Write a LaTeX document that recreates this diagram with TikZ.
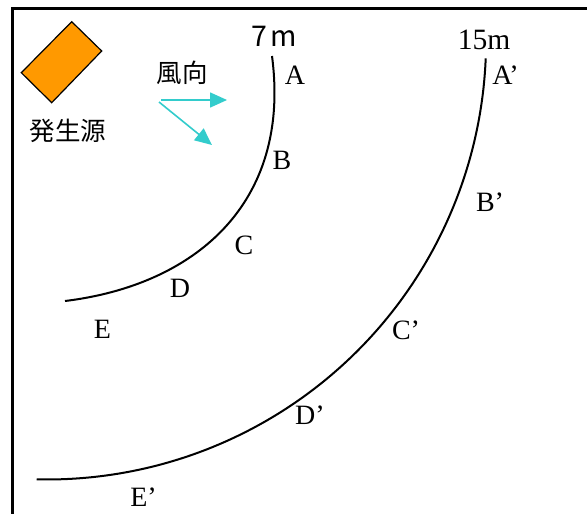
\documentclass[tikz,border=0pt]{standalone}
\usepackage{fontspec}
\setmainfont{Liberation Serif}
\newfontfamily\jp{Noto Sans CJK JP}
\usetikzlibrary{arrows.meta}
\definecolor{srcorange}{HTML}{FF9900}
\definecolor{windc}{HTML}{33CCCC}
\begin{document}
\begin{tikzpicture}[x=1pt,y=-1pt,
  lbl/.style={font=\fontsize{28}{28}\selectfont, inner sep=0pt},
  jlbl/.style={font=\jp\fontsize{25.5}{25.5}\selectfont, inner sep=0pt},
  dist/.style={inner sep=0pt},
  wind/.style={draw=windc, line width=1.6pt, -{Triangle[length=17pt,width=15pt]}},
  ring/.style={line width=2pt}]
\useasboundingbox (0,0) rectangle (587,514);
\fill[white] (0,0) rectangle (587,514);
% frame
\draw[line width=3pt] (12,520) -- (12,8) -- (595,8);
% source
\draw[fill=srcorange, line width=1.2pt] (21.3,72.7) -- (71.7,21.7) -- (101.7,51) -- (51.7,102.7) -- cycle;
\node[jlbl] (src) at (68,130.5) {発生源};
% wind
\node[jlbl] (windlbl) at (182,72.5) {風向};
\coordinate (w0) at (161,100);
\coordinate (w1) at (227,100);
\coordinate (w2) at (159,102);
\coordinate (w3) at (212,145);
\draw[wind] (w0) -- (w1);
\draw[wind] (w2) -- (w3);
% 7 m arc
\coordinate (a0) at (272,56);
\coordinate (a1) at (65,301);
\draw[ring] (a0) .. controls (291.5,204.5) and (193.7,285.4) .. (a1);
% 15 m arc
\draw[ring] plot[domain=2.34:91.34, samples=90, smooth] ({47+439.1*cos(\x)},{40.4+439.1*sin(\x)});
% distance labels
\node[dist, font=\jp\fontsize{28.5}{28.5}\selectfont] (d7) at (274.5,36.2) {7\hspace{3pt}m};
\node[dist, font=\fontsize{29.5}{29.5}\selectfont] (d15) at (484,39.5) {15m};
% point labels
\node[lbl] (A) at (295,75) {A};
\node[lbl] (B) at (282,160.7) {B};
\node[lbl] (C) at (244,245) {C};
\node[lbl] (D) at (180,288) {D};
\node[lbl] (E) at (102.5,329) {E};
\node[lbl] (A2) at (505.5,75) {A’};
\node[lbl] (B2) at (490,202) {B’};
\node[lbl] (C2) at (406,330) {C’};
\node[lbl] (D2) at (310,415.5) {D’};
\node[lbl] (E2) at (143.5,497.5) {E’};
\end{tikzpicture}
\end{document}
